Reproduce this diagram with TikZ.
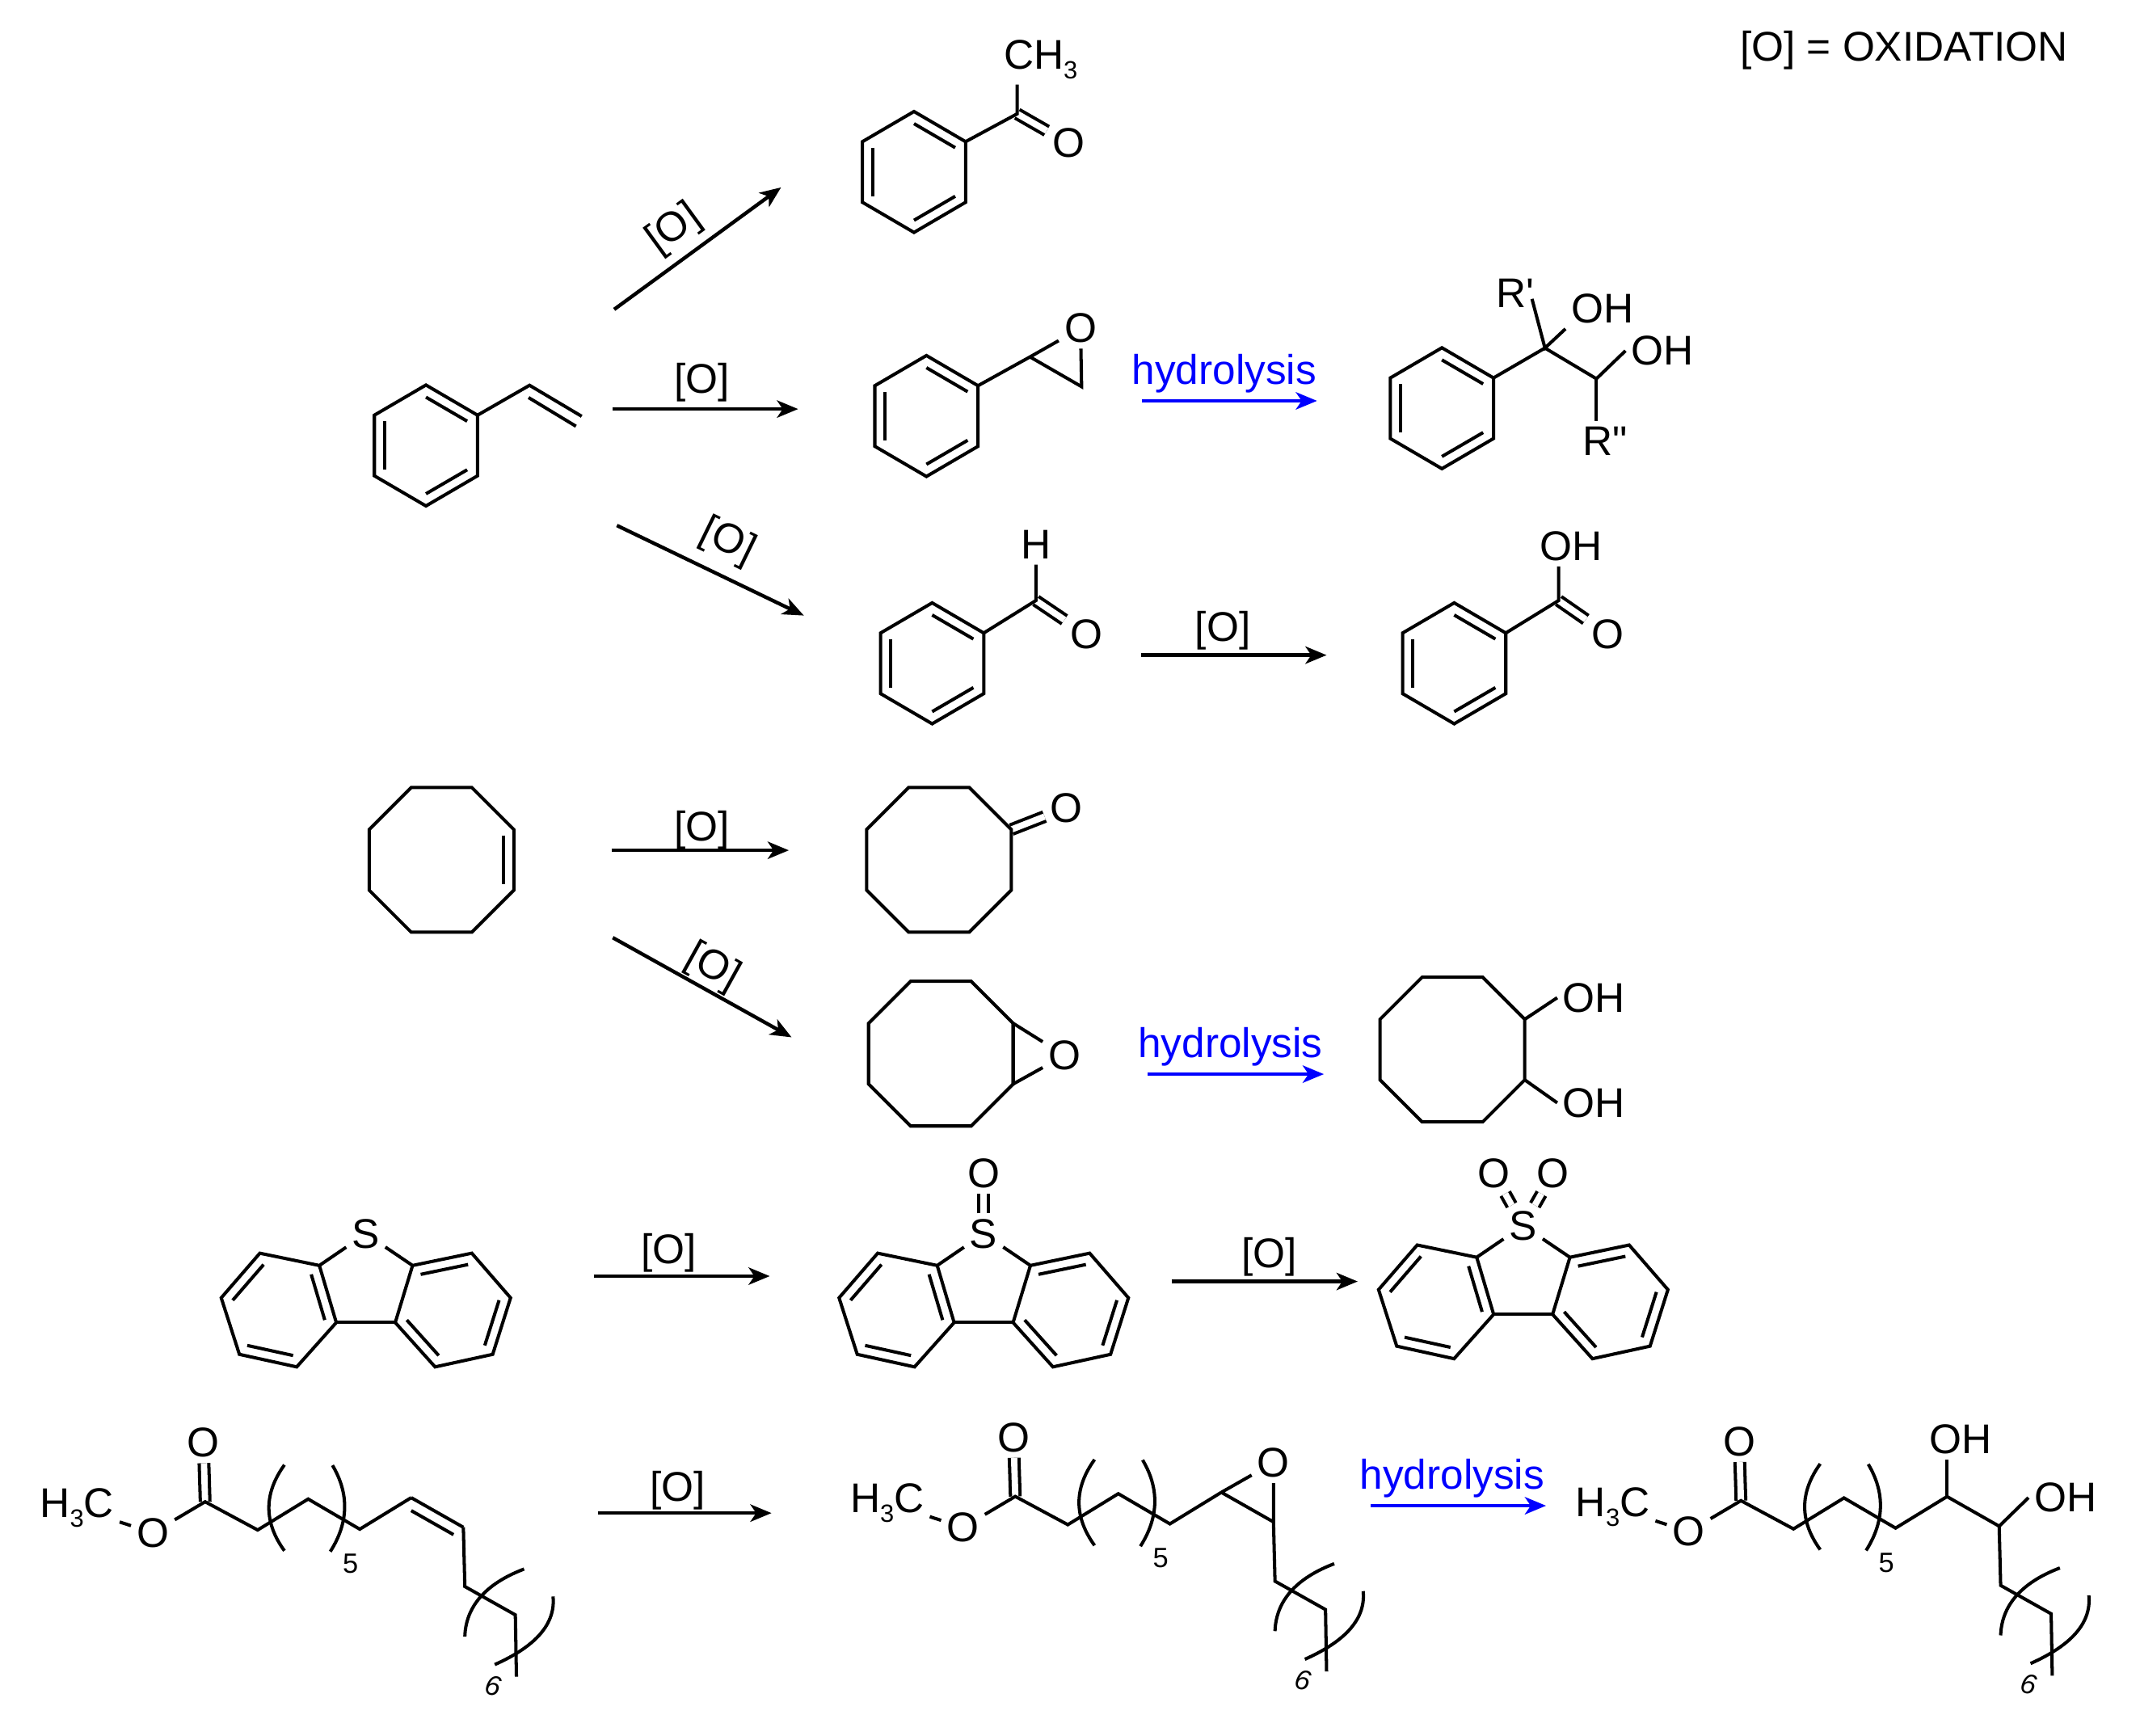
\documentclass[tikz,border=0pt]{standalone}
\usepackage{fontspec}
\setmainfont{Liberation Sans}
\usetikzlibrary{arrows.meta,calc}

\newcommand{\lowidx}[1]{\raisebox{-2pt}{\fontsize{5.2}{6}\selectfont #1}}

\newcommand{\phenyl}[3]{
	\begin{scope}[shift={(#2,#3)}]
		\coordinate (#1-ur) at (37.8,-22.2);
		\draw[bond] (37.8,-22.2) -- (0,-44.3) -- (-37.8,-22.2) -- (-37.8,22.2) -- (0,44.3) -- (37.8,22.2) -- cycle;
		\draw[bond] (0,-35.4) -- (30.2,-17.8);
		\draw[bond] (-30.2,-17.8) -- (-30.2,17.8);
		\draw[bond] (0,35.4) -- (30.2,17.8);
	\end{scope}
}

\newcommand{\octring}[3]{
	\begin{scope}[shift={(#2,#3)}]
		\coordinate (#1-ur) at (53,-22.2);
		\coordinate (#1-lr) at (53,22.2);
		\draw[bond] (22.2,-53) -- (53,-22.2) -- (53,22.2) -- (22.2,53) -- (-22.2,53) -- (-53,22.2) -- (-53,-22.2) -- (-22.2,-53) -- cycle;
	\end{scope}
}

\newcommand{\thiophene}[3]{
	\begin{scope}[shift={(#2,#3)}]
		\node[atom] (#1-s) at (0,0) {S};
		\coordinate (#1-a) at (-34,23.2);
		\coordinate (#1-b) at (-21.6,65);
		\coordinate (#1-c) at (-50.6,97.5);
		\coordinate (#1-d) at (-92.6,88.3);
		\coordinate (#1-e) at (-105.9,46.9);
		\coordinate (#1-f) at (-77.6,14.2);
		\coordinate (#1-g) at (34.3,23.2);
		\coordinate (#1-h) at (21.6,65);
		\coordinate (#1-i) at (50.8,97.5);
		\coordinate (#1-j) at (93,88.3);
		\coordinate (#1-k) at (106.1,46.9);
		\coordinate (#1-l) at (77.7,14.2);
		\coordinate (#1-lc) at (-63.8,55.7);
		\coordinate (#1-rc) at (64,55.7);
		\draw[bond] (#1-s) -- (#1-a) -- (#1-b) -- (#1-c) -- (#1-d) -- (#1-e) -- (#1-f) -- (#1-a);
		\draw[bond] (#1-s) -- (#1-g) -- (#1-h) -- (#1-i) -- (#1-j) -- (#1-k) -- (#1-l) -- (#1-g);
		\draw[bond] (#1-b) -- (#1-h);
		\foreach \p/\q in {f/e,a/b,c/d}
			\draw[bond] ($(#1-lc)!.8!(#1-\p)$) -- ($(#1-lc)!.8!(#1-\q)$);
		\foreach \p/\q in {g/l,k/j,h/i}
			\draw[bond] ($(#1-rc)!.8!(#1-\p)$) -- ($(#1-rc)!.8!(#1-\q)$);
	\end{scope}
}

\newcommand{\stearate}[3]{
	\begin{scope}[shift={(#2,#3)}]
		\node[atom] (#1-me) at (56.4,1105) {H\lowidx{3}C};
		\node[atom] (#1-o) at (112,1123) {O};
		\node[atom] (#1-co) at (149,1057) {O};
		\coordinate (#1-c1) at (150.3,1100.3);
		\coordinate (#1-c2) at (188.8,1121);
		\coordinate (#1-c3) at (225.8,1098.3);
		\coordinate (#1-c4) at (263.6,1120.4);
		\coordinate (#1-c9) at (301.3,1097.3);
		\coordinate (#1-c10) at (339.5,1119);
		\coordinate (#1-c11) at (340.6,1162.4);
		\coordinate (#1-c12) at (377.6,1183.2);
		\coordinate (#1-c13) at (378.4,1228.5);
		\draw[dbl] (#1-c1) -- (#1-co);
		\draw[bond] (#1-me) -- (#1-o) -- (#1-c1) -- (#1-c2) -- (#1-c3) -- (#1-c4) -- (#1-c9);
		\draw[bond] (#1-c10) -- (#1-c11) -- (#1-c12) -- (#1-c13);
		\draw[bond] (208.4,1073.3) .. controls (193.2,1094.3) and (193.2,1115.3) .. (208.4,1136.2);
		\draw[bond] (243.6,1073.6) .. controls (256,1094.5) and (255.5,1115.6) .. (242,1136.8);
		\draw[bond] (384,1149.6) .. controls (355.8,1160.3) and (341.3,1177.1) .. (340.6,1199);
		\draw[bond] (405.2,1169.7) .. controls (407.2,1189.5) and (392.9,1206.1) .. (362.5,1219.6);
		\node[idx] (#1-n5) at (256.8,1145.7) {5};
		\node[idx,rotate=-12] (#1-n6) at (361.4,1235) {\itshape 6};
	\end{scope}
}

\begin{document}
\begin{tikzpicture}[x=0.1mm,y=-0.1mm,
		bond/.style={line width=0.68pt},
		dbl/.style={bond,double,double distance=1.32pt},
		rxn/.style={line width=0.75pt,-{Stealth[length=4.4pt,width=3.6pt,inset=1.2pt]}},
		hyd/.style={rxn,blue},
		atom/.style={inner sep=1pt,font=\fontsize{8.65}{10}\selectfont},
		idx/.style={inner sep=0pt,font=\fontsize{5.8}{7}\selectfont}]
	\useasboundingbox (0,0) rectangle (1568,1271.4);

	\node[atom] (legend) at (1395,37) {[O] = OXIDATION};

	\phenyl{sty}{312.1}{326.4}
	\coordinate (vina) at (388,282.3);
	\coordinate (vinb) at (426.2,305);
	\coordinate (vinc) at (387.3,291.3);
	\coordinate (vind) at (422,312.3);
	\draw[bond] (sty-ur) -- (vina) -- (vinb);
	\draw[bond] (vinc) -- (vind);

	\phenyl{ace}{669.7}{126}
	\coordinate (acec) at (745.3,83.4);
	\node[atom] (aceme) at (762.5,43.5) {CH\lowidx{3}};
	\node[atom] (aceo) at (783,105) {O};
	\draw[dbl] (acec) -- (aceo);
	\draw[bond] (ace-ur) -- (acec) -- (acec |- aceme.south);

	\phenyl{oxi}{678.8}{304.8}
	\coordinate (oxia) at (754.7,261.5);
	\coordinate (oxib) at (792.5,283.3);
	\node[atom] (oxio) at (791.7,240.5) {O};
	\draw[bond] (oxi-ur) -- (oxia) -- (oxib) -- (oxio) -- (oxia);

	\phenyl{gly}{1056.5}{299.1}
	\coordinate (glya) at (1132,255);
	\coordinate (glyb) at (1169.7,277.5);
	\coordinate (glyr) at (1122.5,219);
	\node[atom] (glyrone) at (1110,215) {R\textquotesingle};
	\node[atom] (glyoha) at (1174,226) {OH};
	\node[atom] (glyohb) at (1218,257) {OH};
	\node[atom] (glyrtwo) at (1176,323) {R\textquotedbl};
	\draw[bond] (gly-ur) -- (glya) -- (glyb) -- (glyohb.west);
	\draw[bond] (glyr) -- (glya) -- (glyoha.south west);
	\draw[bond] (glyb) -- (glyb |- glyrtwo.north);

	\phenyl{ald}{683}{486}
	\coordinate (aldc) at (759,440);
	\node[atom] (aldh) at (759,399) {H};
	\node[atom] (aldo) at (796,465) {O};
	\draw[dbl] (aldc) -- (aldo);
	\draw[bond] (ald-ur) -- (aldc) -- (aldh);

	\phenyl{ben}{1065.5}{486}
	\coordinate (benc) at (1142,440);
	\node[atom] (benoh) at (1151,400) {OH};
	\node[atom] (beno) at (1178,465) {O};
	\draw[dbl] (benc) -- (beno);
	\draw[bond] (ben-ur) -- (benc) -- (benc |- benoh.south);

	\octring{cene}{323.5}{630}
	\coordinate (cenea) at (369,612);
	\coordinate (ceneb) at (369,648);
	\draw[bond] (cenea) -- (ceneb);

	\coordinate (ketc) at (741,607.8);
	\node[atom] (keto) at (781.4,592) {O};
	\draw[dbl] (ketc) -- (keto);
	\octring{ket}{688}{630}

	\octring{eox}{689.4}{772}
	\node[atom] (eoxo) at (780,773.3) {O};
	\draw[bond] (eox-ur) -- (eox-lr) -- (eoxo) -- (eox-ur);

	\octring{cdi}{1064.2}{769}
	\node[atom] (cdioha) at (1168,731) {OH};
	\node[atom] (cdiohb) at (1168,808) {OH};
	\draw[bond] (cdi-ur) -- (cdioha.west);
	\draw[bond] (cdi-lr) -- (cdiohb.west);

	\thiophene{dbt}{268}{904}

	\thiophene{sox}{720.7}{904}
	\node[atom] (soxo) at (720.7,859.5) {O};
	\draw[dbl] (sox-s) -- (soxo);

	\thiophene{sod}{1116}{898}
	\node[atom] (sodoa) at (1094.5,859.6) {O};
	\node[atom] (sodob) at (1138,859.6) {O};
	\draw[dbl] (sod-s) -- (sodoa);
	\draw[dbl] (sod-s) -- (sodob);

	\stearate{ole}{0}{0}
	\coordinate (olea) at (301.3,1106.8);
	\coordinate (oleb) at (332.3,1124.4);
	\draw[bond] (ole-c9) -- (ole-c10);
	\draw[bond] (olea) -- (oleb);

	\stearate{epo}{593.6}{-3.9}
	\node[atom] (epoo) at (933.1,1071.7) {O};
	\draw[bond] (epo-c9) -- (epo-c10) -- (epoo) -- (epo-c9);

	\stearate{dio}{1125.3}{-0.8}
	\node[atom] (diooha) at (1436.5,1054.5) {OH};
	\node[atom] (dioohb) at (1513.3,1097.3) {OH};
	\draw[bond] (dio-c9) -- (dio-c10) -- (dioohb.west);
	\draw[bond] (dio-c9) -- (dio-c9 |- diooha.south);

	\coordinate (arra) at (450,226.7);
	\coordinate (arrb) at (572.3,137.3);
	\draw[rxn] (arra) -- (arrb);
	\node[atom,rotate=36] (laba) at (494,168) {[O]};

	\coordinate (arrc) at (448.8,299.7);
	\coordinate (arrd) at (584.8,299.7);
	\draw[rxn] (arrc) -- (arrd);
	\node[atom] (labb) at (514.5,280) {[O]};

	\coordinate (arre) at (452,385);
	\coordinate (arrf) at (589,451);
	\draw[rxn] (arre) -- (arrf);
	\node[atom,rotate=-26] (labc) at (533,397) {[O]};

	\coordinate (arrg) at (836.7,293.7);
	\coordinate (arrh) at (965,293.7);
	\draw[hyd] (arrg) -- (arrh);
	\node[atom,blue] (labd) at (897,274) {hydrolysis};

	\coordinate (arri) at (836,480);
	\coordinate (arrj) at (972,480);
	\draw[rxn] (arri) -- (arrj);
	\node[atom] (labe) at (896,462) {[O]};

	\coordinate (arrk) at (448,623);
	\coordinate (arrl) at (578,623);
	\draw[rxn] (arrk) -- (arrl);
	\node[atom] (labf) at (514.5,608) {[O]};

	\coordinate (arrm) at (449,687);
	\coordinate (arrn) at (580,760);
	\draw[rxn] (arrm) -- (arrn);
	\node[atom,rotate=-29] (labg) at (522,709) {[O]};

	\coordinate (arro) at (841,787);
	\coordinate (arrp) at (970,787);
	\draw[hyd] (arro) -- (arrp);
	\node[atom,blue] (labh) at (901.5,767) {hydrolysis};

	\coordinate (arrq) at (435,935);
	\coordinate (arrr) at (564,935);
	\draw[rxn] (arrq) -- (arrr);
	\node[atom] (labi) at (490,918) {[O]};

	\coordinate (arrs) at (858.6,938.9);
	\coordinate (arrt) at (994.8,938.9);
	\draw[rxn] (arrs) -- (arrt);
	\node[atom] (labj) at (930,921) {[O]};

	\coordinate (arru) at (438,1108.6);
	\coordinate (arrv) at (565.3,1108.6);
	\draw[rxn] (arru) -- (arrv);
	\node[atom] (labk) at (496.5,1092) {[O]};

	\coordinate (arrw) at (1004.4,1103.2);
	\coordinate (arrx) at (1132.8,1103.2);
	\draw[hyd] (arrw) -- (arrx);
	\node[atom,blue] (labl) at (1064,1083) {hydrolysis};
\end{tikzpicture}
\end{document}
